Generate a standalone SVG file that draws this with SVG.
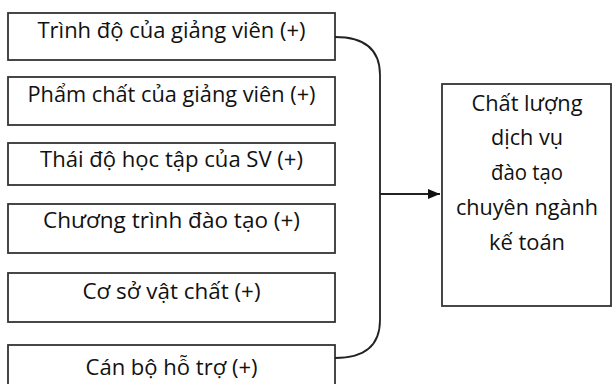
<svg xmlns="http://www.w3.org/2000/svg" width="612" height="384" viewBox="0 0 612 384">
<style>
.box{fill:#fff;stroke:#333;stroke-width:1.8}
.t{font-family:"Open Sans","Noto Sans",sans-serif;font-size:22px;fill:#111;text-anchor:middle}
.c{fill:none;stroke:#222;stroke-width:1.8}
</style>
<defs>
<marker id="ah" markerWidth="12" markerHeight="10" refX="12" refY="5" orient="auto" markerUnits="userSpaceOnUse">
<path d="M0,0 L12,5 L0,10 Z" fill="#111"/>
</marker>
</defs>
<rect width="612" height="384" fill="#fff"/>
<g id="n1"><rect class="box" x="8" y="13" width="327" height="47"/><text class="t" x="171.5" y="38" textLength="268" lengthAdjust="spacingAndGlyphs">Trình độ của giảng viên (+)</text></g>
<g id="n2"><rect class="box" x="8" y="77" width="327" height="48"/><text class="t" x="171.5" y="102" textLength="288" lengthAdjust="spacingAndGlyphs">Phẩm chất của giảng viên (+)</text></g>
<g id="n3"><rect class="box" x="8" y="143" width="327" height="42"/><text class="t" x="171.5" y="167" textLength="263" lengthAdjust="spacingAndGlyphs">Thái độ học tập của SV (+)</text></g>
<g id="n4"><rect class="box" x="8" y="204" width="327" height="49"/><text class="t" x="171.5" y="228" textLength="257" lengthAdjust="spacingAndGlyphs">Chương trình đào tạo (+)</text></g>
<g id="n5"><rect class="box" x="8" y="273" width="327" height="49"/><text class="t" x="171.5" y="299" textLength="178" lengthAdjust="spacingAndGlyphs">Cơ sở vật chất (+)</text></g>
<g id="n6"><rect class="box" x="8" y="345" width="327" height="50"/><text class="t" x="171.5" y="375" textLength="172" lengthAdjust="spacingAndGlyphs">Cán bộ hỗ trợ (+)</text></g>
<g id="target"><rect class="box" x="442" y="84" width="169" height="222"/>
<text class="t" x="527" y="111" textLength="111" lengthAdjust="spacingAndGlyphs">Chất lượng</text>
<text class="t" x="527" y="145" textLength="72" lengthAdjust="spacingAndGlyphs">dịch vụ</text>
<text class="t" x="527" y="180" textLength="72" lengthAdjust="spacingAndGlyphs">đào tạo</text>
<text class="t" x="527" y="215" textLength="142" lengthAdjust="spacingAndGlyphs">chuyên ngành</text>
<text class="t" x="527" y="250" textLength="76" lengthAdjust="spacingAndGlyphs">kế toán</text>
</g>
<g id="connectors">
<path class="c" d="M335,37 C365,37 380,50 380,75 L380,320 C380,345 365,358 335,358"/>
<path class="c" d="M380,194 L440,194" marker-end="url(#ah)"/>
</g>
</svg>
